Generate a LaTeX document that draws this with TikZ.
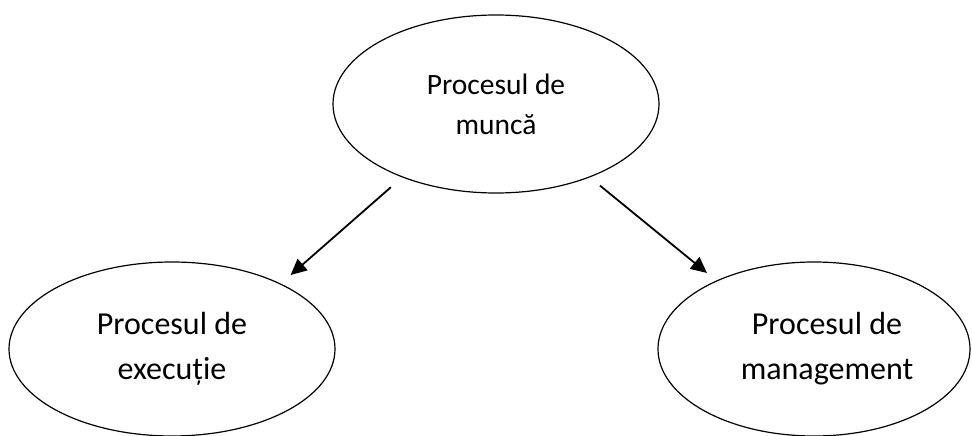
\documentclass[tikz,border=0pt]{standalone}
\usepackage{fontspec}
\setmainfont{Carlito}
\usetikzlibrary{shapes.geometric, arrows.meta}
\tikzset{
	x=1pt, y=-1pt,
	proces/.style={ellipse, draw, line width=1.2pt, align=center, inner sep=0pt},
	mare/.style={proces, font=\fontsize{32}{45}\selectfont, minimum height=174pt},
	sageata/.style={-{Triangle[length=16pt,width=15pt]}, line width=1.8pt}}

\begin{document}
\begin{tikzpicture}
		\useasboundingbox (0,0) rectangle (972,436);

		\node[proces, font=\fontsize{29.5}{40}\selectfont, minimum width=326pt, minimum height=178pt] (munca) at (496,104) {Procesul de\\muncă};

		\node[mare, minimum width=326pt] (executie) at (172,349) {Procesul de\\execuție};

		\node[mare, minimum width=312pt] (management) at (814,349) {\hspace*{26pt}Procesul de\\\hspace*{26pt}management};

		\draw[sageata, shorten <=15pt, shorten >=13pt] (munca.-142) -- (executie.31);
		\draw[sageata, shorten <=13pt, shorten >=12pt] (munca.-38) -- (management.145);
	\end{tikzpicture}
\end{document}
